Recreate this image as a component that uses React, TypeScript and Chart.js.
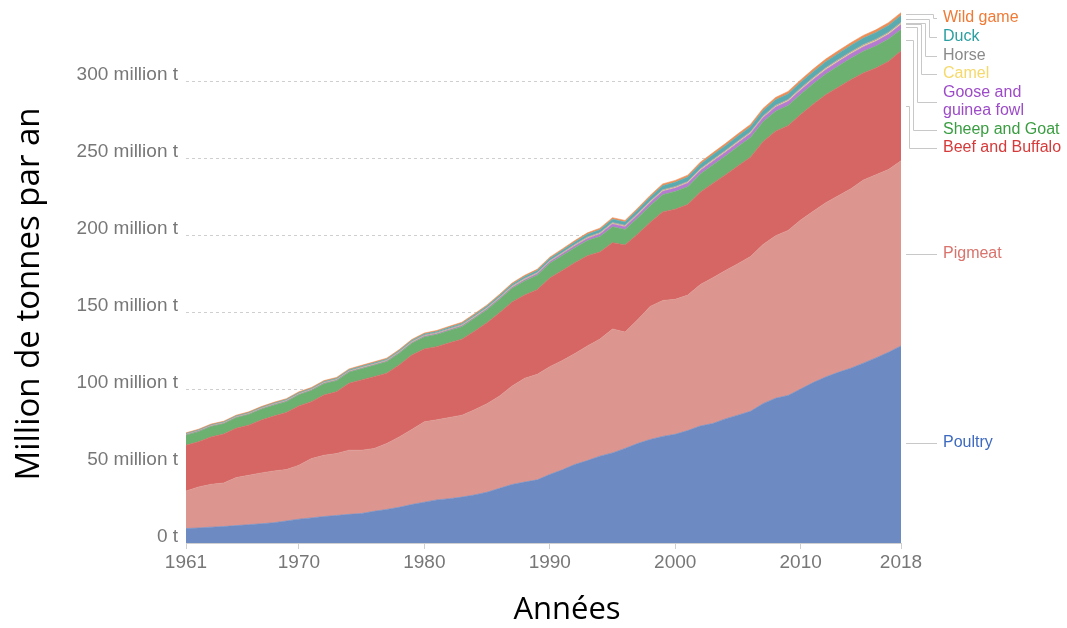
import React, { useEffect, useRef } from 'react';
import { Chart, registerables } from 'chart.js';

Chart.register(...registerables);

const years: number[] = [];
for (let y = 1961; y <= 2018; y++) years.push(y);

const xTickYears = [1961, 1970, 1980, 1990, 2000, 2010, 2018];
const yTickValues = [0, 50, 100, 150, 200, 250, 300];

const poultry = [
  9.4, 9.8, 10.3, 10.7, 11.3, 11.9, 12.5, 13.2, 14.3, 15.5,
  16.3, 17.2, 17.9, 18.6, 19.2, 20.6, 21.8, 23.2, 25.0, 26.5,
  28.0, 28.8, 29.8, 31.2, 33.0, 35.5, 38.0, 39.6, 41.0, 44.5,
  47.5, 51.0, 53.5, 56.4, 58.5, 61.4, 64.6, 67.2, 69.2, 70.6,
  73.0, 76.0, 77.6, 80.6, 83.0, 85.5, 90.5, 94.0, 95.8, 100.0,
  104.2, 107.8, 110.8, 113.5, 116.8, 120.2, 123.8, 128.0,
];
const pigmeat = [
  24.3, 26.6, 27.8, 28.3, 31.2, 32.1, 33.0, 33.6, 33.4, 35.0,
  38.5, 39.8, 40.2, 41.7, 41.1, 40.8, 42.8, 45.7, 48.7, 52.2,
  52.0, 52.7, 53.2, 55.3, 57.5, 60.0, 64.0, 67.4, 68.5, 70.0,
  71.0, 72.0, 74.5, 76.0, 80.5, 75.6, 80.4, 86.4, 88.3, 87.6,
  88.0, 91.8, 94.7, 96.3, 98.4, 100.5, 103.3, 105.5, 107.2, 109.7,
  111.2, 113.2, 114.7, 116.5, 118.9, 118.9, 118.7, 120.2,
];
const beefBuffalo = [
  29.8, 29.3, 30.8, 31.7, 32.0, 32.5, 34.3, 35.6, 37.0, 38.5,
  37.0, 39.1, 40.1, 43.4, 45.6, 46.6, 45.6, 46.7, 48.3, 47.3,
  47.5, 48.5, 49.3, 51.0, 52.5, 54.0, 54.5, 54.0, 55.0, 57.5,
  58.5, 59.0, 58.5, 56.5, 56.0, 56.5, 55.5, 54.5, 57.5, 58.5,
  58.8, 60.0, 61.2, 62.1, 63.4, 64.5, 66.8, 67.9, 68.0, 68.5,
  69.5, 70.0, 70.5, 70.8, 69.5, 69.3, 70.2, 71.3,
];
const sheepGoat = [
  6.5, 6.6, 6.7, 6.7, 6.8, 6.9, 7.0, 7.1, 7.1, 7.2,
  7.2, 7.3, 7.2, 7.2, 7.3, 7.4, 7.5, 7.6, 7.7, 7.8,
  7.9, 8.0, 8.2, 8.4, 8.5, 8.7, 8.9, 9.2, 9.4, 9.6,
  9.7, 9.8, 9.9, 10.1, 10.3, 10.1, 10.6, 10.9, 11.2, 11.5,
  11.6, 11.8, 12.0, 12.3, 12.6, 12.8, 12.9, 13.0, 13.1, 13.2,
  13.3, 13.5, 13.7, 13.9, 14.1, 14.3, 14.5, 14.0,
];
const gooseGuinea = [
  0.20, 0.21, 0.22, 0.23, 0.24, 0.25, 0.26, 0.27, 0.28, 0.29,
  0.30, 0.31, 0.32, 0.33, 0.34, 0.35, 0.36, 0.38, 0.40, 0.42,
  0.45, 0.48, 0.52, 0.56, 0.60, 0.66, 0.72, 0.80, 0.88, 0.95,
  1.05, 1.20, 1.40, 1.60, 1.85, 1.75, 1.90, 2.05, 2.15, 2.25,
  2.30, 2.35, 2.40, 2.45, 2.50, 2.55, 2.60, 2.65, 2.70, 2.75,
  2.80, 2.85, 2.90, 2.95, 3.00, 3.05, 3.10, 3.15,
];
const camel = [
  0.13, 0.13, 0.14, 0.14, 0.14, 0.15, 0.15, 0.15, 0.16, 0.16,
  0.16, 0.17, 0.17, 0.17, 0.18, 0.18, 0.18, 0.19, 0.19, 0.20,
  0.20, 0.21, 0.21, 0.22, 0.23, 0.24, 0.25, 0.26, 0.27, 0.28,
  0.28, 0.29, 0.30, 0.31, 0.32, 0.33, 0.34, 0.35, 0.36, 0.37,
  0.38, 0.39, 0.40, 0.41, 0.42, 0.43, 0.44, 0.45, 0.47, 0.49,
  0.51, 0.53, 0.55, 0.57, 0.58, 0.60, 0.61, 0.63,
];
const horse = [
  0.40, 0.41, 0.42, 0.43, 0.44, 0.45, 0.46, 0.47, 0.48, 0.49,
  0.50, 0.50, 0.51, 0.52, 0.52, 0.53, 0.54, 0.55, 0.56, 0.57,
  0.58, 0.59, 0.60, 0.60, 0.61, 0.62, 0.63, 0.64, 0.64, 0.65,
  0.66, 0.67, 0.68, 0.69, 0.70, 0.70, 0.71, 0.71, 0.72, 0.72,
  0.73, 0.73, 0.74, 0.74, 0.75, 0.75, 0.75, 0.76, 0.76, 0.77,
  0.77, 0.77, 0.78, 0.78, 0.79, 0.79, 0.80, 0.80,
];
const duck = [
  0.30, 0.31, 0.32, 0.33, 0.34, 0.35, 0.36, 0.38, 0.40, 0.42,
  0.44, 0.46, 0.48, 0.50, 0.52, 0.54, 0.57, 0.60, 0.63, 0.66,
  0.70, 0.74, 0.78, 0.83, 0.88, 0.95, 1.02, 1.10, 1.18, 1.25,
  1.35, 1.50, 1.65, 1.85, 2.05, 2.00, 2.20, 2.40, 2.55, 2.70,
  2.80, 2.90, 3.00, 3.10, 3.20, 3.30, 3.40, 3.50, 3.60, 3.70,
  3.80, 3.90, 4.00, 4.10, 4.20, 4.30, 4.40, 4.50,
];
const wildGame = [
  0.50, 0.51, 0.52, 0.53, 0.54, 0.55, 0.56, 0.57, 0.58, 0.59,
  0.60, 0.61, 0.62, 0.63, 0.64, 0.65, 0.66, 0.67, 0.68, 0.69,
  0.70, 0.72, 0.74, 0.76, 0.78, 0.80, 0.82, 0.84, 0.86, 0.88,
  0.90, 0.93, 0.96, 1.00, 1.04, 1.06, 1.10, 1.14, 1.18, 1.22,
  1.26, 1.30, 1.34, 1.38, 1.42, 1.46, 1.50, 1.54, 1.58, 1.62,
  1.65, 1.68, 1.70, 1.72, 1.74, 1.76, 1.78, 1.80,
];

const seriesNames = ['Poultry', 'Pigmeat', 'Beef and Buffalo', 'Sheep and Goat', 'Goose and guinea fowl', 'Camel', 'Horse', 'Duck', 'Wild game'];
const seriesValues = [poultry, pigmeat, beefBuffalo, sheepGoat, gooseGuinea, camel, horse, duck, wildGame];
const fillColors = ['#6d8bc2', '#dc968f', '#d66664', '#6cb170', '#b57bd0', '#f2d77a', '#a3a3a3', '#5aabb0', '#ee8d55'];
const labelColors = ['#3d6ac0', '#d9736c', '#d63a3a', '#3a9d41', '#9d4bc8', '#f5d96b', '#8a8a8a', '#2b9ea2', '#f07a35'];

// right-hand label layout: series index, text lines, label y, elbow x
const labelLayout = [
  { idx: 8, lines: ['Wild game'], y: 18, elbow: 933 },
  { idx: 7, lines: ['Duck'], y: 37, elbow: 929 },
  { idx: 6, lines: ['Horse'], y: 56, elbow: 925 },
  { idx: 5, lines: ['Camel'], y: 74, elbow: 921 },
  { idx: 4, lines: ['Goose and', 'guinea fowl'], y: 93, elbow: 917 },
  { idx: 3, lines: ['Sheep and Goat'], y: 130, elbow: 913 },
  { idx: 2, lines: ['Beef and Buffalo'], y: 148, elbow: 909 },
  { idx: 1, lines: ['Pigmeat'], y: 254, elbow: 0 },
  { idx: 0, lines: ['Poultry'], y: 443, elbow: 0 },
];

const tickFont = { family: '"Liberation Sans", Arial, sans-serif', size: 19 };

const annotations = {
  id: 'annotations',
  afterDraw(chart: any) {
    const ctx = chart.ctx;
    const area = chart.chartArea;
    const ys = chart.scales.y;
    const last = years.length - 1;
    ctx.save();
    let cum = 0;
    const mids: number[] = [];
    seriesValues.forEach((vals) => {
      const v = vals[last];
      mids.push(ys.getPixelForValue(cum + v / 2));
      cum += v;
    });
    const startX = area.right + 5;
    const endX = 937;
    const textX = 943;
    ctx.strokeStyle = '#c8c8c8';
    ctx.lineWidth = 1;
    labelLayout.forEach((l) => {
      const my = Math.round(mids[l.idx]) + 0.5;
      const lineY = (l.lines.length > 1 ? l.y + 9 : l.y) + 0.5;
      ctx.beginPath();
      if (l.elbow) {
        ctx.moveTo(startX, my);
        ctx.lineTo(l.elbow + 0.5, my);
        ctx.lineTo(l.elbow + 0.5, lineY);
        ctx.lineTo(endX, lineY);
      } else {
        ctx.moveTo(startX, lineY);
        ctx.lineTo(endX, lineY);
      }
      ctx.stroke();
      ctx.fillStyle = labelColors[l.idx];
      ctx.font = '16px "Liberation Sans", Arial, sans-serif';
      ctx.textBaseline = 'middle';
      ctx.textAlign = 'left';
      l.lines.forEach((t, i) => ctx.fillText(t, textX, l.y + i * 18));
    });
    ctx.fillStyle = '#000';
    ctx.textAlign = 'center';
    ctx.textBaseline = 'middle';
    ctx.font = '31px "Open Sans", sans-serif';
    ctx.fillText('Années', 567, 610);
    ctx.font = '33px "Open Sans", sans-serif';
    ctx.translate(30, 294);
    ctx.rotate(-Math.PI / 2);
    ctx.fillText('Million de tonnes par an', 0, 0);
    ctx.restore();
  },
};

export default function App() {
  const ref = useRef<HTMLCanvasElement>(null);
  useEffect(() => {
    if (!ref.current) return;
    const datasets = seriesValues.map((vals, i) => ({
      label: seriesNames[i],
      data: vals.map((v, j) => ({ x: years[j], y: v })),
      backgroundColor: fillColors[i],
      borderColor: fillColors[i],
      borderWidth: 0.6,
      fill: i === 0 ? 'origin' : '-1',
      pointRadius: 0,
      tension: 0,
    }));
    const chart = new Chart(ref.current, {
      type: 'line',
      data: { datasets },
      options: {
        animation: false,
        responsive: true,
        maintainAspectRatio: false,
        layout: { padding: { left: 0, right: 166, top: 4, bottom: 0 } },
        plugins: { legend: { display: false }, tooltip: { enabled: false } },
        scales: {
          x: {
            type: 'linear',
            min: 1961,
            max: 2018,
            afterBuildTicks: (s: any) => {
              s.ticks = xTickYears.map((v) => ({ value: v }));
            },
            afterFit: (s: any) => {
              s.height = 85;
              s.paddingLeft = 0;
              s.paddingRight = 0;
            },
            grid: { display: true, drawOnChartArea: false, drawTicks: true, tickLength: 6, tickColor: '#cfcfcf' },
            border: { display: true, color: '#cfcfcf' },
            ticks: {
              color: '#777',
              font: tickFont,
              padding: 2,
              maxRotation: 0,
              autoSkip: false,
              callback: (v: any) => String(v),
            },
          },
          y: {
            stacked: true,
            min: 0,
            max: 350,
            z: 1,
            afterBuildTicks: (s: any) => {
              s.ticks = yTickValues.map((v) => ({ value: v }));
            },
            afterFit: (s: any) => {
              s.width = 186;
              s.paddingTop = 0;
              s.paddingBottom = 0;
            },
            grid: { color: '#cfcfcf', drawTicks: false, lineWidth: 1 },
            border: { display: false, dash: [3, 3] },
            ticks: {
              color: '#777',
              font: tickFont,
              padding: 8,
              labelOffset: -6,
              callback: (v: any) => (v === 0 ? '0 t' : v + ' million t'),
            },
          },
        },
      },
      plugins: [annotations],
    } as any);
    return () => chart.destroy();
  }, []);
  return (
    <div style={{ position: 'absolute', left: 0, top: 0, width: 1067, height: 628, background: '#fff' }}>
      <canvas ref={ref} />
    </div>
  );
}
